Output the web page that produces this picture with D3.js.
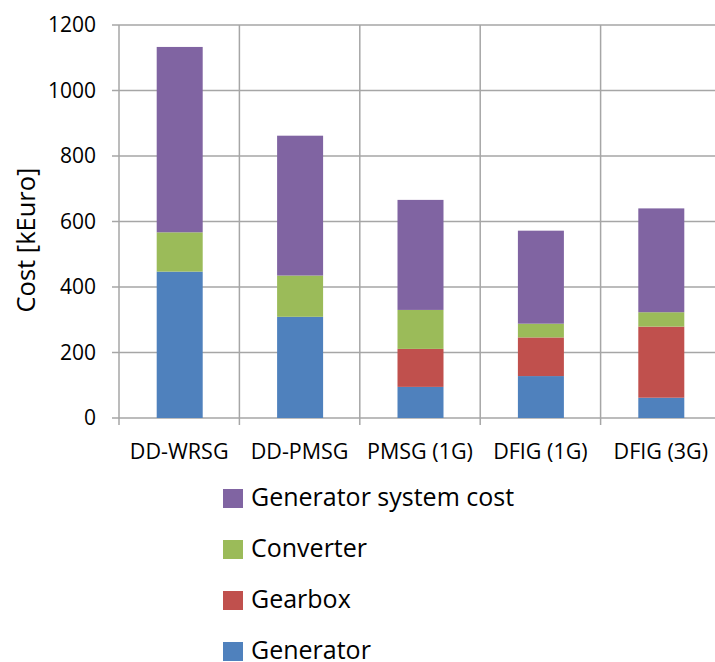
<!DOCTYPE html>
<html><head><meta charset="utf-8">
<script src="https://cdn.jsdelivr.net/npm/d3@7"></script>
<style>body{margin:0;background:#fff}svg{display:block}text{font-family:"Open Sans",sans-serif;fill:#000}</style>
</head><body>
<svg id="c" width="715" height="662"></svg>
<script>
const categories = ["DD-WRSG","DD-PMSG","PMSG (1G)","DFIG (1G)","DFIG (3G)"];
const generator = [447, 309, 95, 128, 62];
const gearbox = [0, 0, 116, 118, 217];
const converter = [120, 126, 119, 42, 44];
const systemCost = [566, 427, 336, 284, 317];
const seriesNames = ["Generator","Gearbox","Converter","Generator system cost"];
const seriesColors = ["#4F81BD","#C0504D","#9BBB59","#8064A2"];
const yTicks = [0,200,400,600,800,1000,1200];

const svg = d3.select("#c");
const x0 = 119, x1 = 721, yTop = 25, yBot = 418;
const x = d3.scaleBand().domain(categories).range([x0, x1]);
const y = d3.scaleLinear().domain([0,1200]).range([yBot, yTop]);

const rows = categories.map((c,i)=>({cat:c, Generator:generator[i], Gearbox:gearbox[i], Converter:converter[i], "Generator system cost":systemCost[i]}));
const stack = d3.stack().keys(seriesNames)(rows);

const grid = svg.append("g").attr("stroke","#a6a6a6").attr("stroke-width",1.5);
grid.selectAll("line.h").data(yTicks).join("line")
  .attr("x1", x0-7).attr("x2", 715).attr("y1", d=>y(d)).attr("y2", d=>y(d));
const bounds = categories.map(c=>x(c)).concat([x1]);
grid.selectAll("line.v").data(bounds).join("line")
  .attr("x1", d=>d).attr("x2", d=>d).attr("y1", yTop).attr("y2", yBot+7);

const bw = 46;
svg.append("g").selectAll("g").data(stack).join("g")
  .attr("fill",(d,i)=>seriesColors[i])
  .selectAll("rect").data(d=>d.map((v,j)=>({v, cat:categories[j]}))).join("rect")
  .attr("x", d=>x(d.cat)+x.bandwidth()/2-bw/2+0.5)
  .attr("width", bw)
  .attr("y", d=>y(d.v[1]))
  .attr("height", d=>y(d.v[0])-y(d.v[1]));

svg.append("g").selectAll("text").data(yTicks).join("text")
  .attr("x", 96).attr("y", d=>y(d)).attr("dy","0.35em")
  .attr("text-anchor","end").attr("font-size",21).text(d=>d);

svg.append("g").selectAll("text").data(categories).join("text")
  .attr("x", d=>x(d)+x.bandwidth()/2).attr("y", 459)
  .attr("text-anchor","middle").attr("font-size",21.5).text(d=>d);

svg.append("text").attr("transform","translate(35,240) rotate(-90)")
  .attr("text-anchor","middle").attr("font-size",25.5).text("Cost [kEuro]");

const legOrder = [3,2,1,0];
const lg = svg.append("g").selectAll("g").data(legOrder).join("g")
  .attr("transform",(d,i)=>`translate(223,${489+i*51})`);
lg.append("rect").attr("width",20).attr("height",19).attr("fill",d=>seriesColors[d]);
lg.append("text").attr("x",28).attr("y",17).attr("font-size",25).text(d=>seriesNames[d]);
</script>
</body></html>
